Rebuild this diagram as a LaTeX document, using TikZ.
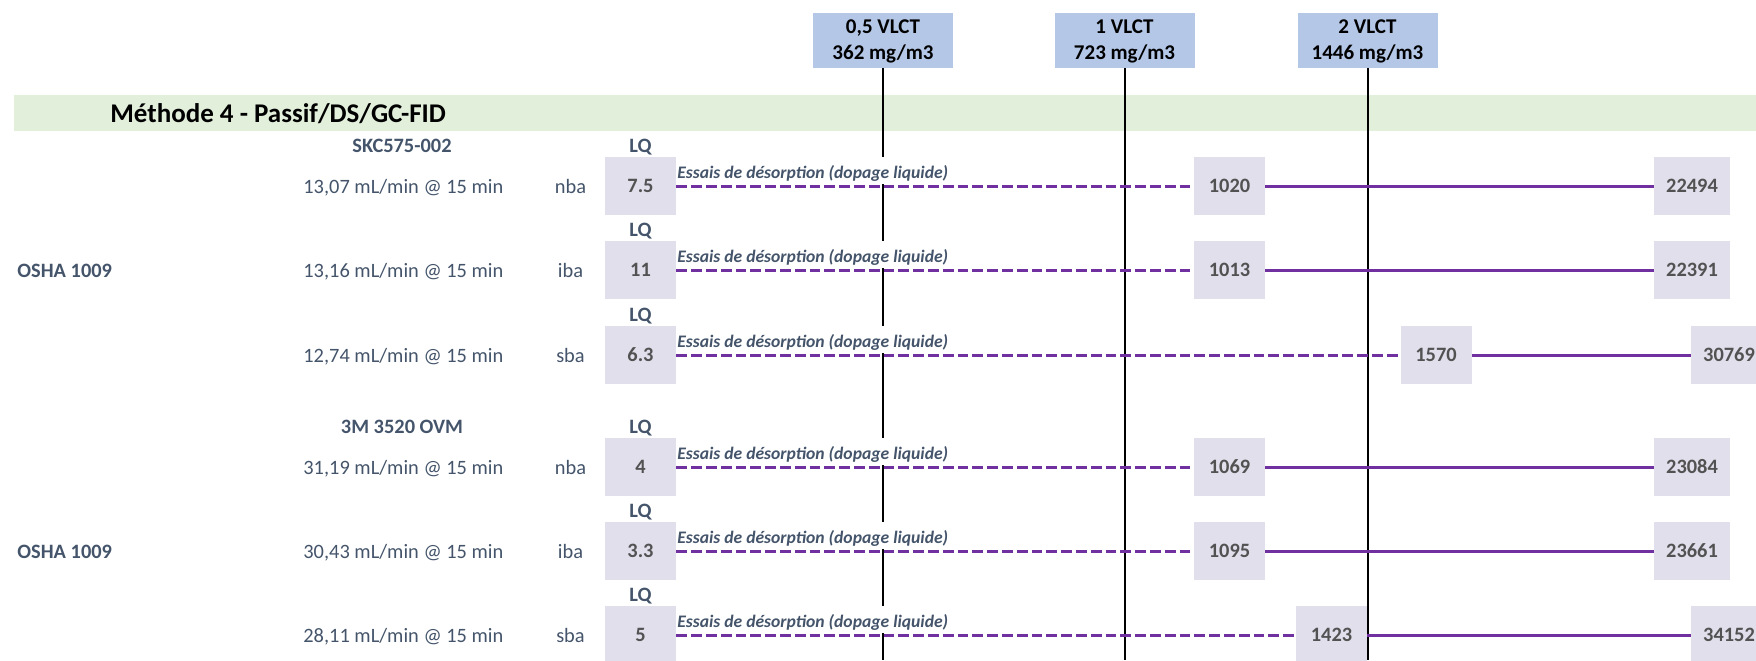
\documentclass[tikz,border=0pt]{standalone}
\usepackage{fontspec}
\setmainfont{Carlito}
\definecolor{hdrblue}{HTML}{B4C7E7}
\definecolor{bandgreen}{HTML}{E2EFDA}
\definecolor{cellgray}{HTML}{E2DFED}
\definecolor{slate}{HTML}{44546A}
\definecolor{valgray}{HTML}{525252}
\definecolor{lineviolet}{HTML}{7030A0}
\begin{document}
\begin{tikzpicture}[x=0.5pt,y=-0.5pt,
  vlctbox/.style={fill=hdrblue, minimum width=70pt, minimum height=27.5pt, inner sep=0pt},
  hdrtxt/.style={inner sep=0pt, anchor=base, font=\fontsize{10.5}{12}\selectfont\bfseries, text=black},
  lbl/.style={inner sep=0pt, text=slate, font=\fontsize{10.2}{12}\selectfont},
  lblb/.style={lbl, font=\fontsize{10.2}{12}\selectfont\bfseries},
  cellbox/.style={fill=cellgray, minimum width=35.5pt, minimum height=29pt, inner sep=0pt,
    text=valgray, font=\fontsize{10.2}{12}\selectfont\bfseries},
  widebox/.style={cellbox, minimum width=38pt},
  essai/.style={inner sep=0pt, anchor=base west, fill=white, text height=10.5pt, text depth=3pt,
    text=slate, font=\fontsize{8.8}{10}\selectfont\bfseries\itshape},
  vlctline/.style={draw=black, line width=1pt},
  dashpath/.style={draw=lineviolet, line width=1.5pt, dash pattern=on 5.4pt off 2pt},
  solidpath/.style={draw=lineviolet, line width=1.5pt}
]
\useasboundingbox (0,0) rectangle (1756,660);
\clip (0,0) rectangle (1756,660);

% section band and title
\fill[bandgreen] (14,95) rectangle (1756,131);
\node[inner sep=0pt, anchor=base west, font=\fontsize{13.5}{15}\selectfont\bfseries] (title) at (110,122) {Méthode 4 - Passif/DS/GC-FID};

% exposure limit markers
\node[vlctbox] (h1) at (883,40.5) {};
\node[vlctbox] (h2) at (1124.5,40.5) {};
\node[vlctbox] (h3) at (1367.5,40.5) {};
\node[hdrtxt] (h1a) at (883,33.5) {0,5 VLCT};
\node[hdrtxt] (h1b) at (883,59.5) {362 mg/m3};
\node[hdrtxt] (h2a) at (1124.5,33.5) {1 VLCT};
\node[hdrtxt] (h2b) at (1124.5,59.5) {723 mg/m3};
\node[hdrtxt] (h3a) at (1367.5,33.5) {2 VLCT};
\node[hdrtxt] (h3b) at (1367.5,59.5) {1446 mg/m3};
\coordinate (e1) at (883,660);
\coordinate (e2) at (1124.5,660);
\coordinate (e3) at (1367.5,660);
\draw[vlctline] (h1.south) -- (e1);
\draw[vlctline] (h2.south) -- (e2);
\draw[vlctline] (h3.south) -- (e3);

% sampler headings and method references
\node[lblb, anchor=base] (skc) at (402,152) {SKC575-002};
\node[lblb, anchor=base] (tm) at (402,433) {3M 3520 OVM};
\node[lblb, anchor=base west] (osha1) at (17,277) {OSHA 1009};
\node[lblb, anchor=base west] (osha2) at (17,558) {OSHA 1009};

% one line per compound
\foreach \n/\y/\flow/\cmp/\lq/\va/\xa/\vb/\xb/\wb in {
  1/186/{13,07 mL/min @ 15 min}/nba/7.5/1020/1229.5/22494/1692/widebox,
  2/270/{13,16 mL/min @ 15 min}/iba/11/1013/1229.5/22391/1692/widebox,
  3/355/{12,74 mL/min @ 15 min}/sba/6.3/1570/1436/30769/1729/widebox,
  4/467/{31,19 mL/min @ 15 min}/nba/4/1069/1229.5/23084/1692/widebox,
  5/551/{30,43 mL/min @ 15 min}/iba/3.3/1095/1229.5/23661/1692/widebox,
  6/635/{28,11 mL/min @ 15 min}/sba/5/1423/1331.5/34152/1729/widebox}{
  \node[lbl, anchor=base west] (flow\n) at (303,\y+7) {\flow};
  \node[lbl, anchor=base] (cmp\n) at (570.5,\y+7) {\cmp};
  \node[lblb, anchor=base] (lqt\n) at (640.5,\y-34) {LQ};
  \node[cellbox] (lq\n) at (640.5,\y) {\lq};
  \node[essai] (es\n) at (677,\y-8) {Essais de désorption (dopage liquide)};
  \node[cellbox] (a\n) at (\xa,\y) {\va};
  \node[\wb] (b\n) at (\xb,\y) {\vb};
  \draw[dashpath] (lq\n.east) -- (a\n.west);
  \draw[solidpath] (a\n.east) -- (b\n.west);
}
\end{tikzpicture}
\end{document}
